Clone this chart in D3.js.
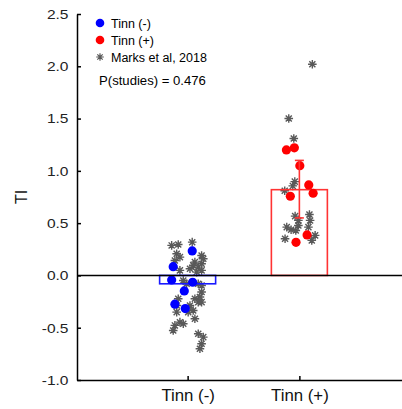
<!DOCTYPE html>
<html>
<head>
<meta charset="utf-8">
<script src="https://cdn.jsdelivr.net/npm/d3@7"></script>
<style>
html,body{margin:0;padding:0;background:#fff;}
svg{display:block;font-family:"Liberation Sans",Arial,sans-serif;}
</style>
</head>
<body>
<svg id="chart" width="402" height="409"></svg>
<script>
const categories = ["Tinn (-)", "Tinn (+)"];
const yTicks = [-1.0, -0.5, 0.0, 0.5, 1.0, 1.5, 2.0, 2.5];
const barMeans = [-0.08, 0.82];
const ciLow = [null, 0.55];
const ciHigh = [null, 1.10];

// Tinn (-) individual points (blue)
const negValues = [0.234, 0.084, -0.043, -0.065, -0.148, -0.275, -0.317];
const negJitter = [0.041, -0.129, -0.143, 0.045, -0.030, -0.114, -0.021];
// Tinn (+) individual points (red)
const posValues = [1.20, 1.22, 1.05, 0.865, 0.757, 0.786, 0.387, 0.317];
const posJitter = [-0.116, -0.045, 0.004, 0.084, -0.081, 0.123, 0.069, -0.030];

// Marks et al, 2018 (grey asterisks)
const marksNegValues = [0.287, 0.296, 0.318, 0.207, 0.175, 0.143, 0.191, 0.159, 0.112, 0.127,
  0.096, 0.079, 0.048, 0.064, 0.032, 0.048, -0.048, -0.079, -0.079, -0.096,
  -0.159, -0.207, -0.223, -0.223, -0.255, -0.255, -0.287, -0.287, -0.351, -0.351,
  -0.335, -0.447, -0.478, -0.462, -0.414, -0.526, -0.558, -0.590, -0.653, -0.701];
const marksNegJitter = [-0.143, -0.084, 0.041, -0.098, -0.069, -0.114, 0.125, 0.140, 0.125, 0.065,
  0.050, 0.095, -0.069, 0.021, 0.081, 0.125, -0.039, -0.009, 0.095, 0.125,
  0.125, 0.110, -0.084, 0.065, 0.095, 0.125, -0.098, 0.021, -0.098, 0.005,
  0.050, -0.069, -0.114, -0.039, 0.065, -0.129, 0.095, 0.140, 0.125, 0.110];
const marksPosValues = [2.02, 1.50, 1.31, 0.897, 0.856, 0.81, 0.567, 0.526, 0.583, 0.526,
  0.462, 0.478, 0.462, 0.437, 0.43, 0.351, 0.383, 0.335];
const marksPosJitter = [0.116, -0.095, -0.050, -0.041, -0.059, -0.131, -0.038, -0.009, 0.090, 0.096,
  0.081, -0.009, -0.113, -0.074, -0.032, -0.128, 0.141, 0.111];

const pText = "P(studies) = 0.476";
const legendItems = ["Tinn (-)", "Tinn (+)", "Marks et al, 2018"];

(function () {
const svg = d3.select("#chart");
const mLeft = 77, mBottom = 380, mTop = 14, mRight = 410;

const x = d3.scalePoint().domain(categories).range([mLeft, mRight]).padding(0.99);
const step = x.step();
const y = d3.scaleLinear().domain([-1, 2.5]).range([mBottom, mTop]);

const colors = ["#0000ff", "#ff0000"];
const barColors = ["#1a1aff", "#ff3333"];
const barW = 56;

function asterisk(r) {
  const d = r * Math.SQRT1_2;
  return `M${-r},0L${r},0M0,${-r}L0,${r}M${-d},${-d}L${d},${d}M${-d},${d}L${d},${-d}`;
}
function stretch(sel, factor) {
  sel.each(function () {
    const w = this.getComputedTextLength();
    d3.select(this).attr("textLength", w * factor).attr("lengthAdjust", "spacingAndGlyphs");
  });
}

const marksData = [
  ...marksNegValues.map((v, i) => ({cat: categories[0], v, j: marksNegJitter[i]})),
  ...marksPosValues.map((v, i) => ({cat: categories[1], v, j: marksPosJitter[i]}))
];
svg.append("g").selectAll("path").data(marksData).join("path")
  .attr("transform", d => `translate(${x(d.cat) + d.j * step},${y(d.v)})`)
  .attr("d", asterisk(4.3))
  .attr("stroke", "#595959").attr("stroke-width", 1.4).attr("fill", "none");

svg.append("g").selectAll("rect").data(categories).join("rect")
  .attr("x", d => x(d) - barW / 2)
  .attr("y", (d, i) => Math.min(y(barMeans[i]), y(0)))
  .attr("width", barW)
  .attr("height", (d, i) => Math.abs(y(barMeans[i]) - y(0)))
  .attr("fill", "none")
  .attr("stroke", (d, i) => barColors[i])
  .attr("stroke-width", 1.6);

const ptData = [
  ...negValues.map((v, i) => ({cat: categories[0], v, j: negJitter[i], c: colors[0]})),
  ...posValues.map((v, i) => ({cat: categories[1], v, j: posJitter[i], c: colors[1]}))
];
svg.append("g").selectAll("circle").data(ptData).join("circle")
  .attr("cx", d => x(d.cat) + d.j * step)
  .attr("cy", d => y(d.v))
  .attr("r", 4.6)
  .attr("fill", d => d.c);

const eb = svg.append("g").attr("stroke-width", 1.6);
categories.forEach((c, i) => {
  if (ciLow[i] == null) return;
  const cx = x(c);
  eb.append("line").attr("x1", cx).attr("x2", cx).attr("y1", y(ciLow[i])).attr("y2", y(ciHigh[i])).attr("stroke", barColors[i]);
  [ciLow[i], ciHigh[i]].forEach(v => {
    eb.append("line").attr("x1", cx - 4.5).attr("x2", cx + 4.5).attr("y1", y(v)).attr("y2", y(v)).attr("stroke", barColors[i]);
  });
});

svg.append("line").attr("x1", mLeft).attr("x2", 402).attr("y1", y(0)).attr("y2", y(0))
  .attr("stroke", "#000").attr("stroke-width", 1.5);

const yAxis = d3.axisLeft(y).tickValues(yTicks).tickFormat(d => d.toFixed(1))
  .tickSizeInner(-4).tickSizeOuter(0).tickPadding(8.5);
const gy = svg.append("g").attr("transform", `translate(${mLeft},0)`).call(yAxis);
gy.selectAll("text").attr("font-size", 13.5).attr("fill", "#222").attr("font-family", "Liberation Sans, Arial, sans-serif");
stretch(gy.selectAll("text"), 1.15);
gy.selectAll("line, path").attr("stroke", "#000").attr("stroke-width", 1.5);

const xAxis = d3.axisBottom(x).tickSizeInner(-4).tickSizeOuter(0).tickPadding(10);
const gx = svg.append("g").attr("transform", `translate(0,${mBottom})`).call(xAxis);
gx.selectAll("text").attr("font-size", 16).attr("fill", "#111").attr("font-family", "Liberation Sans, Arial, sans-serif");
stretch(gx.selectAll("text"), 1.05);
gx.selectAll("line, path").attr("stroke", "#000").attr("stroke-width", 1.5);

svg.append("text").attr("transform", `translate(27,${(mTop + mBottom) / 2}) rotate(-90)`)
  .attr("text-anchor", "middle").attr("font-size", 16).attr("fill", "#111").text("TI");

const lg = svg.append("g");
legendItems.forEach((t, i) => {
  const ly = 23 + i * 17;
  if (i < 2) {
    lg.append("circle").attr("cx", 100).attr("cy", ly).attr("r", 4.3).attr("fill", colors[i]);
  } else {
    lg.append("path").attr("transform", `translate(100,${ly})`).attr("d", asterisk(3.8))
      .attr("stroke", "#595959").attr("stroke-width", 1.2).attr("fill", "none");
  }
  lg.append("text").attr("x", 111).attr("y", ly + 4.5).attr("font-size", 12.5).attr("fill", "#000").text(t);
});
const pt = svg.append("text").attr("x", 99).attr("y", 85).attr("font-size", 12.5).attr("fill", "#000").text(pText);
stretch(pt, 1.05);
})();
</script>
</body>
</html>
